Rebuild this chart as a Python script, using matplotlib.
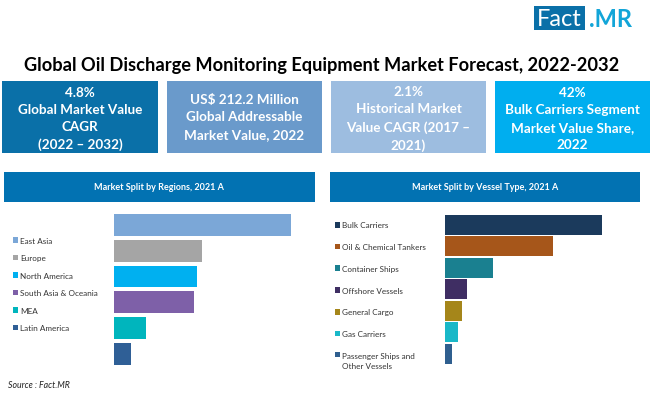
# Oil discharge monitoring equipment infographic, all layout in reference pixels

import matplotlib
matplotlib.use("Agg")
import matplotlib.pyplot as plt
from matplotlib.patches import Rectangle, Patch

W, H = 650, 406

title = "Global Oil Discharge Monitoring Equipment Market Forecast, 2022-2032"
source = "Source : Fact.MR"

kpi_texts = ["4.8%\nGlobal Market Value\nCAGR\n(2022 – 2032)",
             "US$ 212.2 Million\nGlobal Addressable\nMarket Value, 2022",
             "2.1%\nHistorical Market\nValue CAGR (2017 –\n2021)",
             "42%\nBulk Carriers Segment\nMarket Value Share,\n2022"]
kpi_colors = ["#0a70a8", "#6a9acb", "#9dbde0", "#00aeef"]

regions = ["East Asia", "Europe", "North America", "South Asia & Oceania", "MEA", "Latin America"]
region_share = [36.9, 18.5, 17.5, 16.8, 6.7, 3.6]
region_colors = ["#7ba7d7", "#a5a5a5", "#00b0f0", "#7e60a8", "#00b5bd", "#2f5f96"]

vessels = ["Bulk Carriers", "Oil & Chemical Tankers", "Container Ships", "Offshore Vessels",
           "General Cargo", "Gas Carriers", "Passenger Ships and\nOther Vessels"]
vessel_share = [42.0, 28.9, 12.8, 6.0, 4.6, 3.5, 2.0]
vessel_colors = ["#1b3a5c", "#a6561a", "#1a8090", "#3f2e63", "#a5861a", "#19b8c8", "#2f5f8f"]

plt.rcParams['font.family'] = ['Lato', 'DejaVu Sans']
fig = plt.figure(figsize=(W / 100, H / 100), dpi=100)


def box(x0, y0, x1, y1, color):
    fig.add_artist(Rectangle((x0 / W, 1 - y1 / H), (x1 - x0) / W, (y1 - y0) / H,
                             transform=fig.transFigure, fc=color, ec="none"))


def put(x, y, s, **kw):
    fig.text(x / W, 1 - y / H, s, **kw)


def px_axes(x0, y0, x1, y1):
    ax = fig.add_axes([x0 / W, 1 - y1 / H, (x1 - x0) / W, (y1 - y0) / H])
    ax.axis("off")
    return ax


# logo
box(534, 7, 585, 31, "#0a70a8")
put(537, 19.5, "Fact", color="white", fontsize=17, ha="left", va="center")
put(589, 19.5, ".MR", color="#12a5d8", fontsize=17, fontweight="bold", ha="left", va="center")

put(321.5, 65, title, color="black", fontsize=13.15, fontweight="bold", ha="center", va="center")

# kpi boxes
kpi_x = [(2, 158), (166.5, 321.5), (331, 486), (494.5, 650)]
for (x0, x1), txt, c in zip(kpi_x, kpi_texts, kpi_colors):
    box(x0, 81.5, x1, 154, c)
    ty = 119 if txt.count("\n") == 3 else 117.5
    put((x0 + x1) / 2, ty, txt, color="white", fontsize=9.7, fontweight="bold",
        ha="center", va="center", linespacing=1.52)

# section headers
box(3.5, 172.5, 314.5, 202.5, "#0272b2")
box(329.5, 172.5, 639.5, 202.5, "#0272b2")
put(159, 187.5, "Market Split by Regions, 2021 A", color="white", fontsize=6.5,
    fontweight="bold", ha="center", va="center")
put(485, 187.5, "Market Split by Vessel Type, 2021 A", color="white", fontsize=6.5,
    fontweight="bold", ha="center", va="center")

# regions
ax1 = px_axes(113.5, 213, 290.5, 367.8)
ax1.barh(range(len(regions)), region_share, height=0.84, color=region_colors)
ax1.set_xlim(0, max(region_share))
ax1.set_ylim(len(regions) - 0.5, -0.5)
fig.legend(handles=[Patch(fc=c, label=r) for r, c in zip(regions, region_colors)],
           loc="upper left", bbox_to_anchor=(13 / W, 1 - 238 / H), frameon=False,
           fontsize=5.9, labelcolor="#333333", handlelength=0.6, handleheight=0.7,
           handletextpad=0.25, labelspacing=1.28, borderpad=0, borderaxespad=0)

# vessel types
ax2 = px_axes(444.5, 214.9, 602, 365.8)
ax2.barh(range(len(vessels)), vessel_share, height=0.93, color=vessel_colors)
ax2.set_xlim(0, max(vessel_share))
ax2.set_ylim(len(vessels) - 0.5, -0.5)
leg2 = fig.legend(handles=[Patch(fc=c, label=v) for v, c in zip(vessels, vessel_colors)],
                  loc="upper left", bbox_to_anchor=(335 / W, 1 - 222.5 / H), frameon=False,
                  fontsize=5.9, labelcolor="#333333", handlelength=0.6, handleheight=0.7,
                  handletextpad=0.25, labelspacing=1.8, borderpad=0, borderaxespad=0)
leg2.get_texts()[-1].set_linespacing(1.5)
# swatch of the two line label sits on its first line
last = leg2.legend_handles[-1]
last.set_y(last.get_y() + 4.5)

put(8, 386, source, color="#222222", fontsize=6.3, fontstyle="italic", ha="left", va="center")

fig.savefig("out.png", dpi=100)
